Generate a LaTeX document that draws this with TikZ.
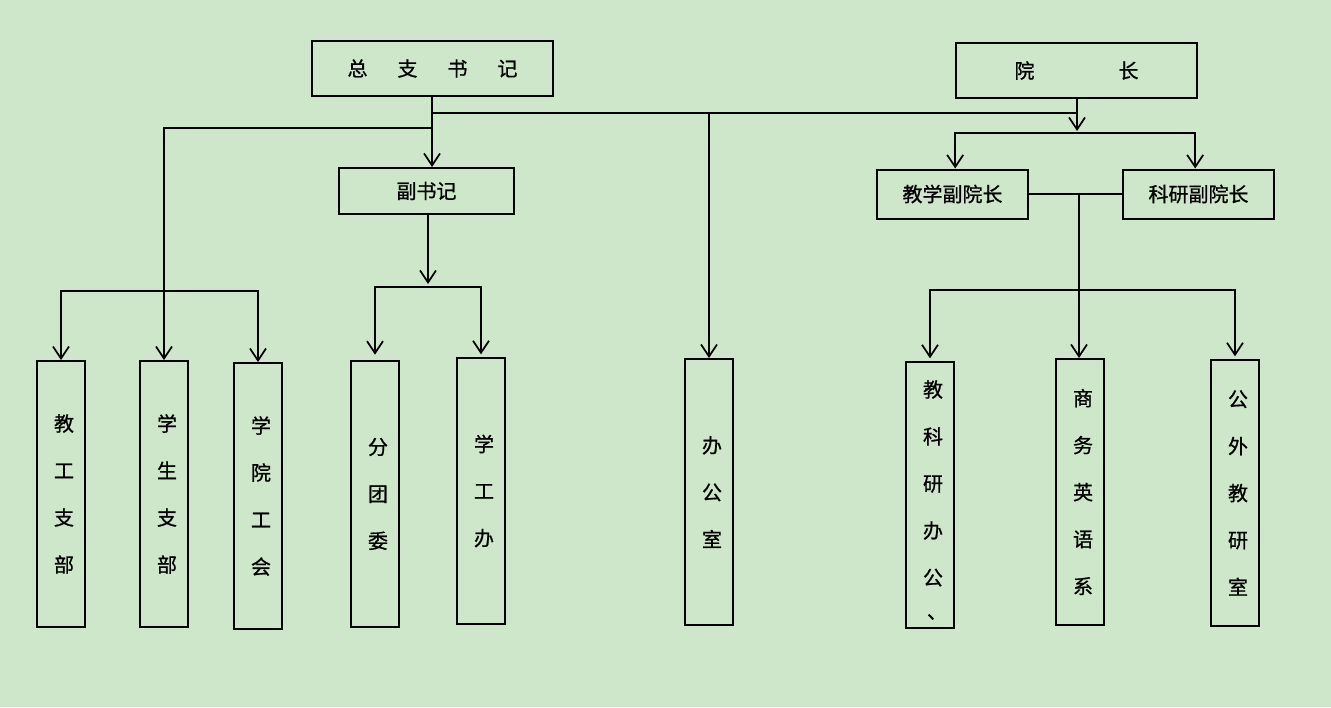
\documentclass[tikz,border=0pt]{standalone}
\usepackage{fontspec}
\newfontfamily\cjk[FakeBold=0.9]{Noto Sans CJK SC}
\usetikzlibrary{arrows.meta}
\definecolor{bg}{RGB}{206,230,202}
\tikzset{
  box/.style={draw=black, line width=1.5pt, inner sep=0pt, font=\cjk\fontsize{15}{18}\selectfont},
  vbox/.style={box, minimum width=48*0.75pt, minimum height=266*0.75pt},
  vtext/.style={align=center, inner sep=0pt, xshift=2.25pt, font=\cjk\fontsize{15}{35.25}\selectfont},
  conn/.style={line width=1.3pt},
  arr/.style={conn, -{Straight Barb[length=9pt,width=12pt,line width=1.3pt]}}
}
\begin{document}
\begin{tikzpicture}[x=0.75pt,y=-0.75pt]
\fill[bg] (0,0) rectangle (1331,707);
\useasboundingbox (0,0) rectangle (1331,707);
% top boxes
\node[box, minimum width=241*0.75pt, minimum height=55*0.75pt] (zz) at (432.5,68.5) {总\hspace{22.5pt}支\hspace{22.5pt}书\hspace{22.5pt}记};
\node[box, minimum width=241*0.75pt, minimum height=55*0.75pt] (yz) at (1076.5,70.5) {院\hspace{63pt}长};
\node[box, minimum width=175*0.75pt, minimum height=46*0.75pt] (fsj) at (426.5,191) {副书记};
\node[box, minimum width=151*0.75pt, minimum height=49*0.75pt] (jx) at (952.5,194) {教学副院长};
\node[box, minimum width=151*0.75pt, minimum height=49*0.75pt] (ky) at (1198.5,194) {科研副院长};
% bottom boxes
\node[vbox] (b1) at (61,494) {};
\node[vbox] (b2) at (164,494) {};
\node[vbox] (b3) at (258,496) {};
\node[vbox] (b4) at (375,494) {};
\node[vbox] (b5) at (481,491) {};
\node[vbox] (b6) at (709,492) {};
\node[vbox] (b7) at (930,495) {};
\node[vbox] (b8) at (1080,492) {};
\node[vbox] (b9) at (1235,493) {};
% vertical texts
\node[vtext] (t1) at (b1.center) {教\\工\\支\\部};
\node[vtext] (t2) at (b2.center) {学\\生\\支\\部};
\node[vtext] (t3) at (b3.center) {学\\院\\工\\会};
\node[vtext] (t4) at (b4.center) {分\\团\\委};
\node[vtext] (t5) at (b5.center) {学\\工\\办};
\node[vtext] (t6) at (b6.center) {办\\公\\室};
\node[vtext, anchor=north] (t7) at (930,380) {教\\科\\研\\办\\公};
\node[inner sep=0pt, font=\cjk\fontsize{15}{18}\selectfont] (t7b) at (937,617) {、};
\node[vtext] (t8) at (b8.center) {商\\务\\英\\语\\系};
\node[vtext] (t9) at (b9.center) {公\\外\\教\\研\\室};
% junction coordinates
\coordinate (j1) at (432,128);
\coordinate (j2) at (432,113);
\coordinate (ya) at (1077,131);
\coordinate (c3) at (1077,133);
\coordinate (c4) at (165,291);
\coordinate (fa) at (428,284);
\coordinate (c5) at (428,287);
\coordinate (c6) at (1079,290);
\coordinate (m6) at (1079,194);
% connectors
\draw[arr] (zz.south -| j1) -- (j1 |- fsj.north);
\draw[arr] (j1) -| (b2.north);
\draw[conn] (j2) -- (ya |- j2);
\draw[arr] (b6.north |- j2) -- (b6.north);
\draw[arr] (yz.south -| ya) -- (ya);
\draw[arr] (c3) -| ([xshift=2pt]jx.north);
\draw[arr] (c3) -| ([xshift=-2.5pt]ky.north);
\draw[arr] (c4) -| (b1.north);
\draw[arr] (c4) -| (b3.north);
\draw[arr] (fsj.south -| fa) -- (fa);
\draw[arr] (c5) -| ([yshift=4pt]b4.north);
\draw[arr] (c5) -| ([yshift=2pt]b5.north);
\draw[conn] (jx.east) -- (ky.west);
\draw[arr] (m6) -- (m6 |- b8.north);
\draw[arr] (c6) -| ([yshift=2pt]b7.north);
\draw[arr] (c6) -| ([yshift=2pt]b9.north);
\end{tikzpicture}
\end{document}
